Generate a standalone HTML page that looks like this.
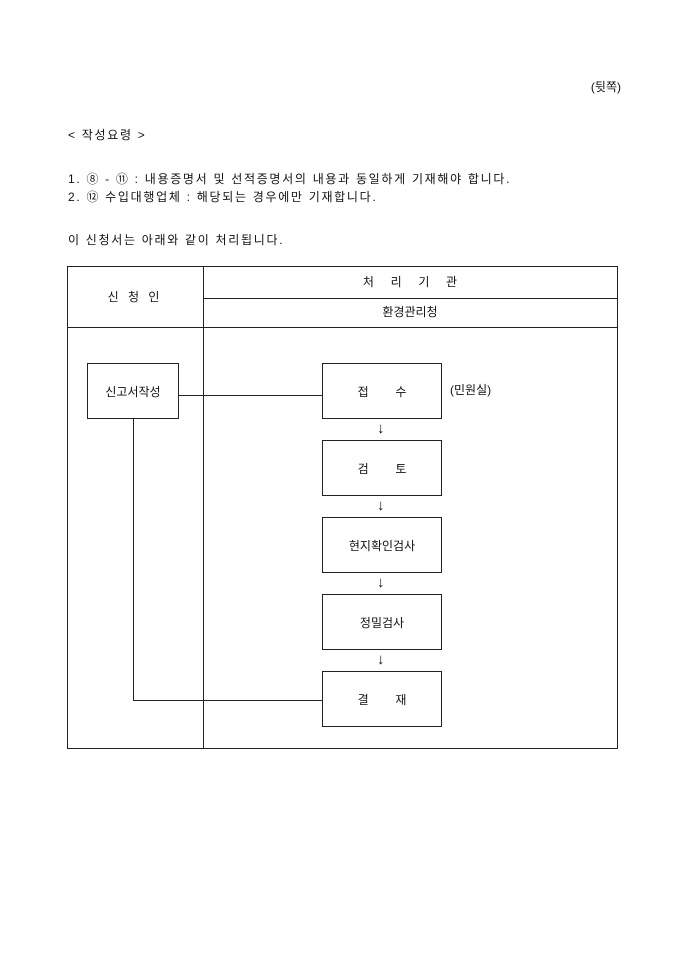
<!DOCTYPE html>
<html><head><meta charset="utf-8"><style>
body{margin:0;width:680px;height:962px;background:#fff;position:relative;font-family:"Liberation Sans","Noto Sans CJK KR","NanumGothic",sans-serif;font-size:12px;color:#111}
.t{position:absolute;white-space:nowrap;line-height:14px}
.s{letter-spacing:1.7px}
.l{position:absolute;background:#222}
.b{position:absolute;border:1px solid #222;display:flex;align-items:center;justify-content:center;box-sizing:border-box}
.a{font-size:15px;font-weight:bold}
</style></head><body>
<div class="t" style="right:59px;top:80px">(뒷쪽)</div>
<div class="t s" style="left:68px;top:128px">&lt; 작성요령 &gt;</div>
<div class="t s" style="left:68px;top:172px">1. ⑧ - ⑪ : 내용증명서 및 선적증명서의 내용과 동일하게 기재해야 합니다.</div>
<div class="t s" style="left:68px;top:190px">2. ⑫ 수입대행업체 : 해당되는 경우에만 기재합니다.</div>
<div class="t s" style="left:68px;top:233px">이 신청서는 아래와 같이 처리됩니다.</div>

<div class="b" style="left:67px;top:266px;width:551px;height:483px"></div>
<div class="l" style="left:203px;top:266px;width:1px;height:483px"></div>
<div class="l" style="left:203px;top:298px;width:414px;height:1px"></div>
<div class="l" style="left:67px;top:327px;width:550px;height:1px"></div>
<div class="t" style="left:67px;top:290px;width:136px;text-align:center;letter-spacing:3px">신 청 인</div>
<div class="t" style="left:203px;top:275px;width:414px;text-align:center">처&nbsp;&nbsp;&nbsp;&nbsp;&nbsp;리&nbsp;&nbsp;&nbsp;&nbsp;&nbsp;기&nbsp;&nbsp;&nbsp;&nbsp;&nbsp;관</div>
<div class="t" style="left:203px;top:305px;width:414px;text-align:center">환경관리청</div>

<div class="b" style="left:87px;top:363px;width:92px;height:56px">신고서작성</div>
<div class="b" style="left:322px;top:363px;width:120px;height:56px">접&nbsp;&nbsp;&nbsp;&nbsp;&nbsp;&nbsp;&nbsp;&nbsp;수</div>
<div class="t" style="left:450px;top:383px">(민원실)</div>
<div class="b" style="left:322px;top:440px;width:120px;height:56px">검&nbsp;&nbsp;&nbsp;&nbsp;&nbsp;&nbsp;&nbsp;&nbsp;토</div>
<div class="b" style="left:322px;top:517px;width:120px;height:56px">현지확인검사</div>
<div class="b" style="left:322px;top:594px;width:120px;height:56px">정밀검사</div>
<div class="b" style="left:322px;top:671px;width:120px;height:56px">결&nbsp;&nbsp;&nbsp;&nbsp;&nbsp;&nbsp;&nbsp;&nbsp;재</div>
<div class="t a" style="left:377px;top:422px">↓</div>
<div class="t a" style="left:377px;top:499px">↓</div>
<div class="t a" style="left:377px;top:576px">↓</div>
<div class="t a" style="left:377px;top:653px">↓</div>

<div class="l" style="left:179px;top:395px;width:143px;height:1px"></div>
<div class="l" style="left:133px;top:419px;width:1px;height:282px"></div>
<div class="l" style="left:133px;top:700px;width:189px;height:1px"></div>
</body></html>
